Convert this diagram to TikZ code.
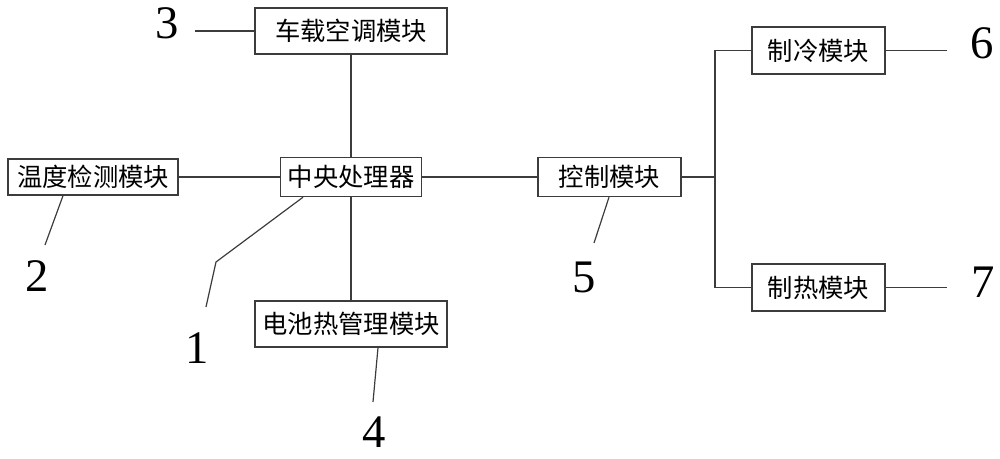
\documentclass[tikz,border=0pt]{standalone}
\usepackage{fontspec}
\setmainfont{Liberation Serif}
\newfontfamily\cjk{Noto Sans CJK SC}
\definecolor{linegray}{RGB}{60,60,60}
\begin{document}
\begin{tikzpicture}
[x=0.75pt,y=-0.75pt,
  boxdecorate/.style={shape=rectangle,draw=linegray,line width=1.1pt,inner sep=0pt,%
    font=\cjk\fontsize{19}{21}\selectfont},%
  linedecorate/.style={-,draw=linegray,line width=0.9pt},%
  numdecorate/.style={inner sep=0pt,font=\fontsize{35}{40}\selectfont}]
\useasboundingbox (0,0) rectangle (1000,459);
%% modules
\foreach \nodename/\x/\y/\w/\h/\txt in {ac/351/31/144pt/34.5pt/车载空调模块,
  temp/93/177/127.5pt/27pt/温度检测模块, cpu/351/177/105.75pt/29.25pt/中央处理器,
  bat/351/324/144pt/34.5pt/电池热管理模块, ctrl/609.5/177/107.25pt/29.25pt/控制模块,
  cool/818.5/50.5/99.75pt/35.25pt/制冷模块, heat/818.5/287.5/99.75pt/35.25pt/制热模块} {
  \node (\nodename) at (\x,\y) [boxdecorate,minimum width=\w,minimum height=\h] {\txt};
}
\coordinate (bus) at (715,177);
%% connections
\path
\foreach \startnode/\endnode in {ac/cpu, cpu/bat, temp/cpu, cpu/ctrl, ctrl/bus}
{
  (\startnode) edge[linedecorate] (\endnode)
};
\draw[linedecorate] (cool.west) -| (bus) |- (heat.west);
%% reference numbers
\foreach \nodename/\x/\y in {1/197/348, 2/37/276, 3/167/23, 4/374/432,
  5/584/277, 6/982/43, 7/983/282} {
  \node (n\nodename) at (\x,\y) [numdecorate] {\nodename};
}
\coordinate (l3) at (195,31);
\coordinate (l2) at (45,245);
\coordinate (k1) at (216,262);
\coordinate (l1) at (206,307);
\coordinate (l4) at (373,402);
\coordinate (l5) at (594,243);
\coordinate (l6) at (947,50.5);
\coordinate (l7) at (947,287.5);
\draw[linedecorate] (ac.west) -- (l3);
\draw[linedecorate] (63,0 |- temp.south) -- (l2);
\draw[linedecorate] (303,0 |- cpu.south) -- (k1) -- (l1);
\draw[linedecorate] (378,0 |- bat.south) -- (l4);
\draw[linedecorate] (609,0 |- ctrl.south) -- (l5);
\draw[linedecorate] (cool.east) -- (l6);
\draw[linedecorate] (heat.east) -- (l7);
\end{tikzpicture}
\end{document}
